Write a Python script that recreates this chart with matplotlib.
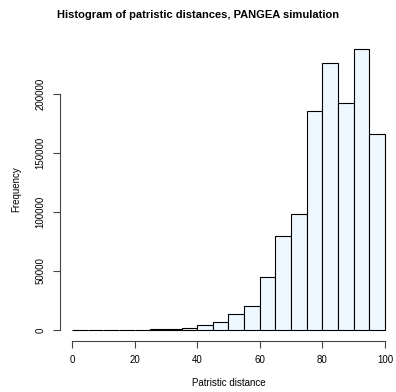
import matplotlib
matplotlib.use("Agg")
import matplotlib.pyplot as plt
import numpy as np

plt.rcParams["font.family"] = ["Liberation Sans", "DejaVu Sans"]

# histogram data (bins of width 5)
bin_edges = [0, 5, 10, 15, 20, 25, 30, 35, 40, 45, 50,
             55, 60, 65, 70, 75, 80, 85, 90, 95, 100]
counts = [60, 80, 100, 150, 300, 600, 1000, 1800, 4200, 6800, 13800,
          20300, 44700, 79700, 98300, 185800, 226000, 192600, 238100, 166100]
x_ticks = [0, 20, 40, 60, 80, 100]
y_ticks = [0, 50000, 100000, 150000, 200000]

fig = plt.figure(figsize=(3.96, 3.92), dpi=100)
ax = fig.add_axes([59.5 / 396, 1 - 341.2 / 392, 338 / 396, (341.2 - 37.8) / 392])

edges = np.array(bin_edges)
ax.bar(edges[:-1], counts, width=np.diff(edges), align="edge",
       color="#F0F8FF", edgecolor="black", linewidth=0.8)

ymax = max(counts)
ax.set_xlim(-4, 104)
ax.set_ylim(-0.04 * ymax, 1.04 * ymax)

for side in ["top", "right"]:
    ax.spines[side].set_visible(False)
ax.spines["left"].set_bounds(y_ticks[0], y_ticks[-1])
ax.spines["bottom"].set_bounds(x_ticks[0], x_ticks[-1])
for side in ["left", "bottom"]:
    ax.spines[side].set_linewidth(0.8)
    ax.spines[side].set_color("#444444")

ax.set_xticks(x_ticks)
ax.set_yticks(y_ticks)
ax.set_yticklabels([str(v) for v in y_ticks], rotation=90, va="center")
ax.tick_params(length=5, width=0.8, color="#444444", labelsize=7, pad=5)

ax.set_xlabel("Patristic distance", fontsize=7, labelpad=9)
ax.set_ylabel("Frequency", fontsize=7, labelpad=10)
fig.suptitle("Histogram of patristic distances, PANGEA simulation",
             fontsize=8, fontweight="bold", y=0.975)

fig.savefig("out.png", dpi=100)
plt.close(fig)
